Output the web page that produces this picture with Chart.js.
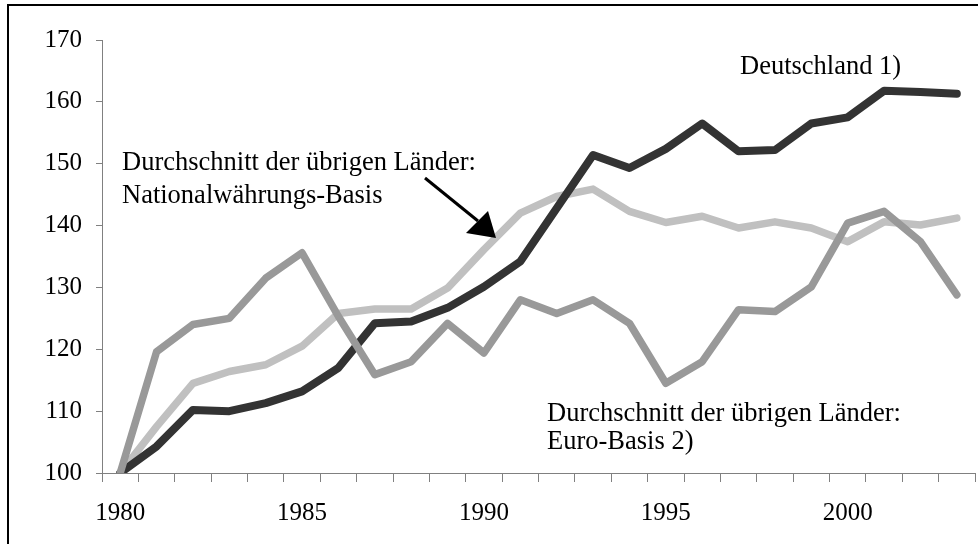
<!DOCTYPE html>
<html>
<head>
<meta charset="utf-8">
<script src="https://cdn.jsdelivr.net/npm/chart.js@4.4.0/dist/chart.umd.min.js"></script>
<style>
  html, body { margin: 0; padding: 0; background: #fff; }
  #wrap { width: 978px; height: 544px; position: relative; }
</style>
</head>
<body>
<div id="wrap"><canvas id="myChart" width="978" height="544"></canvas></div>
<script>
var years = [1980, 1981, 1982, 1983, 1984, 1985, 1986, 1987, 1988, 1989, 1990, 1991,
             1992, 1993, 1994, 1995, 1996, 1997, 1998, 1999, 2000, 2001, 2002, 2003];
var deutschland = [100, 104.3, 110.2, 110.0, 111.3, 113.2, 117.0, 124.2, 124.5, 126.7, 130.1, 134.2,
                   142.8, 151.4, 149.3, 152.4, 156.5, 152.0, 152.2, 156.5, 157.5, 161.8, 161.6, 161.3];
var nationalBasis = [100, 107.5, 114.5, 116.4, 117.5, 120.5, 125.8, 126.5, 126.5, 129.9, 136.1, 142.0,
                     144.7, 145.9, 142.3, 140.5, 141.5, 139.6, 140.6, 139.6, 137.4, 140.6, 140.1, 141.2];
var euroBasis = [100, 119.6, 124.0, 125.0, 131.5, 135.6, 125.3, 115.9, 118.0, 124.2, 119.4, 128.0,
                 125.8, 128.0, 124.2, 114.5, 118.0, 126.4, 126.1, 130.1, 140.4, 142.3, 137.4, 128.8];
var yTicks = [100, 110, 120, 130, 140, 150, 160, 170];

var serif = "'Liberation Serif', 'Times New Roman', serif";
var axisGrey = "#808080";

// Rahmen, Beschriftungen und Pfeil
var annot = {
    id: "annot",
    afterDraw: function (chart) {
        var c = chart.ctx;
        c.save();
        c.strokeStyle = "#000";
        c.lineWidth = 2;
        c.strokeRect(8, 5, 1200, 1200);

        c.fillStyle = "#000";
        c.font = "26.5px " + serif;
        c.textAlign = "left";
        c.textBaseline = "middle";
        c.fillText("Deutschland 1)", 740, 67);
        c.fillText("Durchschnitt der übrigen Länder:", 122, 163);
        c.fillText("Nationalwährungs-Basis", 122, 196);
        c.fillText("Durchschnitt der übrigen Länder:", 547, 414);
        c.fillText("Euro-Basis 2)", 547, 442);

        // Pfeil
        c.strokeStyle = "#000";
        c.lineWidth = 3;
        c.beginPath();
        c.moveTo(425, 178);
        c.lineTo(478, 221);
        c.stroke();
        c.beginPath();
        c.moveTo(496, 238);
        c.lineTo(466, 233);
        c.lineTo(488, 211);
        c.closePath();
        c.fill();
        c.restore();
    }
};

var ctx = document.getElementById("myChart").getContext("2d");
var mychart = new Chart(ctx, {
    type: "line",
    data: {
        labels: years,
        datasets: [
            { label: "Euro-Basis", data: euroBasis, borderColor: "#999999", borderWidth: 7.5 },
            { label: "Deutschland", data: deutschland, borderColor: "#333333", borderWidth: 8 },
            { label: "Nationalwährungs-Basis", data: nationalBasis, borderColor: "#c0c0c0", borderWidth: 7.5 }
        ]
    },
    options: {
        responsive: false,
        animation: false,
        layout: { padding: { top: 40, right: 3, left: 0, bottom: 0 } },
        elements: {
            line: { tension: 0, fill: false, borderCapStyle: "round", borderJoinStyle: "round" },
            point: { radius: 0, hoverRadius: 0 }
        },
        plugins: { legend: { display: false }, tooltip: { enabled: false } },
        scales: {
            x: {
                offset: true,
                grid: { offset: true, drawOnChartArea: false, tickLength: 9, color: axisGrey, lineWidth: 1 },
                border: { color: axisGrey, width: 1 },
                ticks: {
                    autoSkip: false, maxRotation: 0, padding: 16,
                    color: "#000", font: { family: serif, size: 25 },
                    callback: function (v, i) { return years[i] % 5 === 0 ? String(years[i]) : ""; }
                },
                afterFit: function (s) { s.height = 71; }
            },
            y: {
                min: 100, max: 170,
                afterBuildTicks: function (s) { s.ticks = yTicks.map(function (v) { return { value: v }; }); },
                grid: { drawOnChartArea: false, tickLength: 6, color: axisGrey, lineWidth: 1 },
                border: { color: axisGrey, width: 1 },
                ticks: { padding: 14, color: "#000", font: { family: serif, size: 25 } },
                afterFit: function (s) { s.width = 102; }
            }
        }
    },
    plugins: [annot]
});
</script>
</body>
</html>
